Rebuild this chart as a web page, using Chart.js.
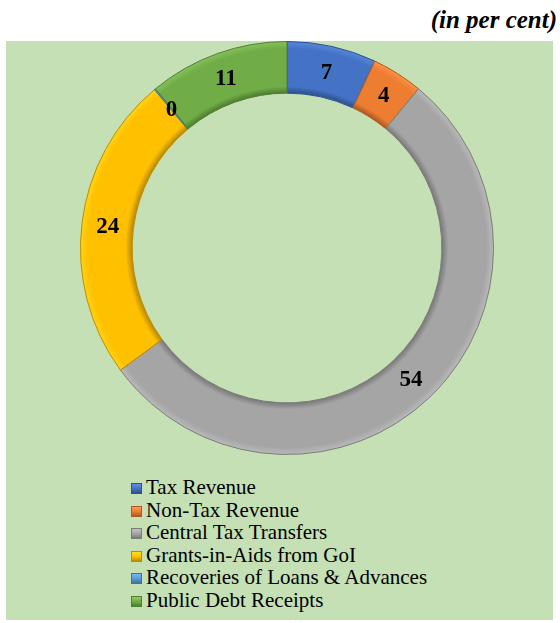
<!DOCTYPE html>
<html>
<head>
<meta charset="utf-8">
<script src="https://cdn.jsdelivr.net/npm/chart.js@4.4.0/dist/chart.umd.min.js"></script>
<style>
  body { margin: 0; background: #ffffff; width: 560px; height: 623px; position: relative; overflow: hidden; }
  #unit { position: absolute; right: 3px; top: 6px; font-family: 'Liberation Serif'; font-style: italic; font-weight: bold; font-size: 25px; color: #000; }
  #panel { position: absolute; left: 6px; top: 41px; width: 547px; height: 579px; background: #c5e0b4; }
  #wrap { position: absolute; left: 74px; top: 0px; width: 414px; height: 414px; }
  #legend { position: absolute; left: 125px; top: 435px; font-family: 'Liberation Serif'; font-size: 21px; color: #000; }
  #legend div { height: 22.5px; line-height: 22.5px; white-space: nowrap; }
  #legend span.box { display: inline-block; width: 11px; height: 11px; margin-right: 4px; box-sizing: border-box; }
</style>
</head>
<body>
<div id="unit">(in per cent)</div>
<div id="panel">
  <div id="wrap"><canvas id="receipts"></canvas></div>
  <div id="legend"></div>
</div>
<script>
// categories and shares of total receipts (per cent)
var categories = [
    'Tax Revenue',
    'Non-Tax Revenue',
    'Central Tax Transfers',
    'Grants-in-Aids from GoI',
    'Recoveries of Loans & Advances',
    'Public Debt Receipts'
];
var shares = [7, 4, 54, 24, 0.1, 11];
var shareLabels = ['7', '4', '54', '24', '0', '11'];

var fills = ['#4472c4', '#ed7d31', '#a5a5a5', '#ffc000', '#5b9bd5', '#70ad47'];
var edges = ['#2f528f', '#ae5a21', '#7b7b7b', '#bc8c00', '#41719c', '#507e32'];
var CUT = 0.75;

function shade(hex, amt) {
    var n = parseInt(hex.slice(1), 16);
    var r = Math.min(255, (n >> 16) + amt), gr = Math.min(255, ((n >> 8) & 255) + amt), b = Math.min(255, (n & 255) + amt);
    return 'rgb(' + r + ',' + gr + ',' + b + ')';
}

// bevel-ish shading across the ring, from the chart area
function ringFill(c) {
    var i = c.dataIndex;
    var area = c.chart.chartArea;
    if (!area) return fills[i];
    var cx = (area.left + area.right) / 2, cy = (area.top + area.bottom) / 2;
    var outer = Math.min(area.right - area.left, area.bottom - area.top) / 2;
    var inner = outer * CUT;
    var g = c.chart.ctx.createRadialGradient(cx, cy, inner, cx, cy, outer);
    g.addColorStop(0, edges[i]);
    g.addColorStop(0.12, fills[i]);
    g.addColorStop(0.85, fills[i]);
    g.addColorStop(1, shade(fills[i], 22));
    return g;
}

var sliceLabels = {
    id: 'sliceLabels',
    afterDatasetsDraw: function (chart) {
        var ctx = chart.ctx;
        var meta = chart.getDatasetMeta(0);
        ctx.save();
        ctx.font = 'bold 23px "Liberation Serif"';
        ctx.fillStyle = '#000';
        ctx.textAlign = 'center';
        ctx.textBaseline = 'middle';
        meta.data.forEach(function (arc, i) {
            var p = arc.tooltipPosition();
            ctx.fillText(shareLabels[i], p.x, p.y + 1);
        });
        ctx.restore();
    }
};

var ctx = document.getElementById('receipts').getContext('2d');
new Chart(ctx, {
    type: 'doughnut',
    data: {
        labels: categories,
        datasets: [{
            data: shares,
            backgroundColor: ringFill,
            borderColor: edges,
            borderWidth: 1
        }]
    },
    options: {
        responsive: true,
        maintainAspectRatio: false,
        animation: false,
        cutout: (CUT * 100) + '%',
        layout: { padding: 0 },
        plugins: {
            legend: { display: false },
            tooltip: { enabled: false }
        }
    },
    plugins: [sliceLabels]
});

// legend built from the same arrays
var legend = document.getElementById('legend');
categories.forEach(function (name, i) {
    var row = document.createElement('div');
    var box = document.createElement('span');
    box.className = 'box';
    box.style.background = 'linear-gradient(' + shade(fills[i], 30) + ', ' + fills[i] + ' 50%, ' + edges[i] + ')';
    box.style.border = '1px solid ' + edges[i];
    row.appendChild(box);
    row.appendChild(document.createTextNode(name));
    legend.appendChild(row);
});
</script>
</body>
</html>
